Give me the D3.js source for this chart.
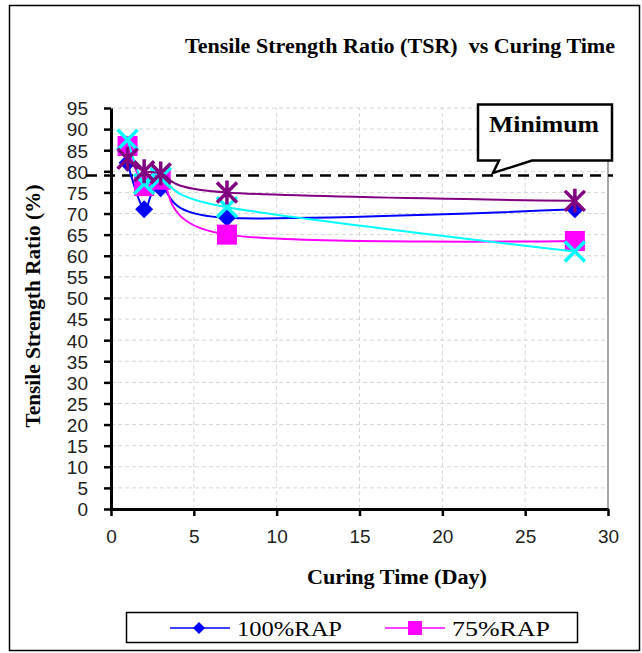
<!DOCTYPE html>
<html>
<head>
<meta charset="utf-8">
<script src="https://cdn.jsdelivr.net/npm/d3@7"></script>
<style>
  body { margin: 0; background: #fff; }
  svg { display: block; }
</style>
</head>
<body>
<div id="chart_container"></div>
<script>
// curing time (days) and TSR (%) per mix
var days = [1, 2, 3, 7, 28]
var tsr_100 = [82, 71, 76, 69, 71]
var tsr_75 = [86, 76.5, 78, 65, 63.5]
var tsr_50 = [87.5, 77, 78.5, 71.5, 61]
var tsr_25 = [83, 80, 79.5, 75, 73]
var series_names = ["100%RAP", "75%RAP", "50%RAP", "25%RAP"]
var x_ticks = [0, 5, 10, 15, 20, 25, 30]
var y_ticks = d3.range(0, 100, 5)
var minimum_tsr = 79

var w = 642, h = 653
var serif = "'Liberation Serif', 'Times New Roman', serif"

var svg = d3.select("#chart_container")
    .append("svg")
        .attr("width", w)
        .attr("height", h)

// outer frame
svg.append("rect")
    .attr("x", 9.5).attr("y", 5.5)
    .attr("width", 630).attr("height", 645)
    .style("fill", "none")
    .style("stroke", "#000")
    .style("stroke-width", "1.5px")

var x = d3.scaleLinear().domain([0, 30]).range([111, 608])
var y = d3.scaleLinear().domain([0, 95]).range([509, 108])

// grid
svg.append("g").selectAll("line.hgrid").data(y_ticks.slice(1)).enter()
    .append("line")
    .attr("x1", x(0)).attr("x2", x(30))
    .attr("y1", function(d){ return y(d) }).attr("y2", function(d){ return y(d) })
    .style("stroke", "#d6d6d6")
    .style("stroke-dasharray", "4,3")
    .style("stroke-width", "1px")

svg.append("g").selectAll("line.vgrid").data(x_ticks.slice(1, -1)).enter()
    .append("line")
    .attr("y1", y(0)).attr("y2", y(95))
    .attr("x1", function(d){ return x(d) }).attr("x2", function(d){ return x(d) })
    .style("stroke", "#d6d6d6")
    .style("stroke-dasharray", "4,3")
    .style("stroke-width", "1px")

// right plot border
svg.append("line")
    .attr("x1", x(30)).attr("x2", x(30))
    .attr("y1", y(95)).attr("y2", y(0))
    .style("stroke", "#8a8a8a")
    .style("stroke-width", "1.5px")

// axes
var yAxis = d3.axisLeft(y).tickValues(y_ticks).tickSize(7).tickPadding(16).tickSizeOuter(0)
var xAxis = d3.axisBottom(x).tickValues(x_ticks).tickSize(7).tickPadding(14).tickSizeOuter(0)

var gy = svg.append("g").attr("transform", "translate(" + x(0) + ",0)").call(yAxis)
var gx = svg.append("g").attr("transform", "translate(0," + y(0) + ")").call(xAxis)

;[gx, gy].forEach(function(g){
    g.selectAll("path.domain").style("stroke", "#000").style("stroke-width", "3px")
    g.selectAll(".tick line").style("stroke", "#000").style("stroke-width", "2.5px")
    g.selectAll(".tick text")
        .style("font-family", "'Liberation Sans', Arial, sans-serif")
        .style("font-size", "19px")
        .style("fill", "#222")
})
gy.selectAll(".tick text").attr("dy", "0.36em")

// minimum line
svg.append("line")
    .attr("x1", 86).attr("x2", 613)
    .attr("y1", y(minimum_tsr)).attr("y2", y(minimum_tsr))
    .style("stroke", "#000")
    .style("stroke-width", "2.5px")
    .style("stroke-dasharray", "11,7")

// series
var colors = ["#0000ff", "#ff00ff", "#00ffff", "#800080"]
var all_series = [tsr_100, tsr_75, tsr_50, tsr_25]

var line = d3.line()
    .x(function(d){ return x(d[0]) })
    .y(function(d){ return y(d[1]) })
    .curve(d3.curveCardinal.tension(0))

function draw_marker(g, k, px, py) {
    var c = colors[k]
    if (k == 0) {
        g.append("path")
            .attr("d", "M" + px + "," + (py - 9) + "L" + (px + 9) + "," + py + "L" + px + "," + (py + 9) + "L" + (px - 9) + "," + py + "Z")
            .style("fill", c)
    } else if (k == 1) {
        g.append("rect")
            .attr("x", px - 10).attr("y", py - 10)
            .attr("width", 20).attr("height", 20)
            .style("fill", c)
    } else if (k == 2) {
        g.append("path")
            .attr("d", "M" + (px - 10) + "," + (py - 10) + "L" + (px + 10) + "," + (py + 10) + "M" + (px + 10) + "," + (py - 10) + "L" + (px - 10) + "," + (py + 10))
            .style("stroke", c).style("stroke-width", "3.5px")
    } else {
        g.append("path")
            .attr("d", "M" + (px - 10) + "," + (py - 10) + "L" + (px + 10) + "," + (py + 10) + "M" + (px + 10) + "," + (py - 10) + "L" + (px - 10) + "," + (py + 10) + "M" + px + "," + (py - 12) + "L" + px + "," + (py + 12))
            .style("stroke", c).style("stroke-width", "3.5px")
    }
}

all_series.forEach(function(vals, k){
    var pts = days.map(function(d, i){ return [d, vals[i]] })
    var g = svg.append("g").attr("class", "series")
    g.append("path")
        .attr("d", line(pts))
        .style("fill", "none")
        .style("stroke", colors[k])
        .style("stroke-width", "2px")
    pts.forEach(function(p){ draw_marker(g, k, x(p[0]), y(p[1])) })
})

// Minimum callout
svg.append("path")
    .attr("d", "M478,104.5 L612,104.5 L612,160.5 L532,160.5 L493,173 L499,160.5 L478,160.5 Z")
    .style("fill", "#fff")
    .style("stroke", "#000")
    .style("stroke-width", "2.5px")
svg.append("text")
    .attr("x", 544).attr("y", 132)
    .attr("text-anchor", "middle")
    .attr("textLength", 110).attr("lengthAdjust", "spacingAndGlyphs")
    .style("font-family", serif)
    .style("font-weight", "bold")
    .style("font-size", "23px")
    .text("Minimum")

// titles
svg.append("text")
    .attr("x", 400).attr("y", 53)
    .attr("text-anchor", "middle")
    .attr("textLength", 430).attr("lengthAdjust", "spacingAndGlyphs")
    .style("font-family", serif)
    .style("font-weight", "bold")
    .style("font-size", "20px")
    .style("white-space", "pre")
    .text("Tensile Strength Ratio (TSR)  vs Curing Time")

svg.append("text")
    .attr("x", 397).attr("y", 584)
    .attr("text-anchor", "middle")
    .attr("textLength", 180).attr("lengthAdjust", "spacingAndGlyphs")
    .style("font-family", serif)
    .style("font-weight", "bold")
    .style("font-size", "20px")
    .text("Curing Time (Day)")

svg.append("text")
    .attr("transform", "translate(40,306) rotate(-90)")
    .attr("text-anchor", "middle")
    .attr("textLength", 243).attr("lengthAdjust", "spacingAndGlyphs")
    .style("font-family", serif)
    .style("font-weight", "bold")
    .style("font-size", "20px")
    .text("Tensile Strength Ratio (%)")

// legend
var legend = svg.append("g")
legend.append("rect")
    .attr("x", 126.5).attr("y", 612.5)
    .attr("width", 451).attr("height", 30)
    .style("fill", "#fff")
    .style("stroke", "#000")
    .style("stroke-width", "1.5px")

var legend_x = [170, 385]
var legend_len = [105, 98]
series_names.slice(0, 2).forEach(function(name, k){
    var lx = legend_x[k], ly = 628
    legend.append("line")
        .attr("x1", lx).attr("x2", lx + 60)
        .attr("y1", ly).attr("y2", ly)
        .style("stroke", colors[k]).style("stroke-width", "1.5px")
    if (k == 0) {
        legend.append("path")
            .attr("d", "M" + (lx + 29) + "," + (ly - 6) + "l6,6l-6,6l-6,-6Z")
            .style("fill", colors[k])
    } else {
        legend.append("rect")
            .attr("x", lx + 23).attr("y", ly - 7)
            .attr("width", 14).attr("height", 14)
            .style("fill", colors[k])
    }
    legend.append("text")
        .attr("x", lx + 67).attr("y", ly + 8)
        .attr("textLength", legend_len[k]).attr("lengthAdjust", "spacingAndGlyphs")
        .style("font-family", serif)
        .style("font-size", "22px")
        .text(name)
})
</script>
</body>
</html>
